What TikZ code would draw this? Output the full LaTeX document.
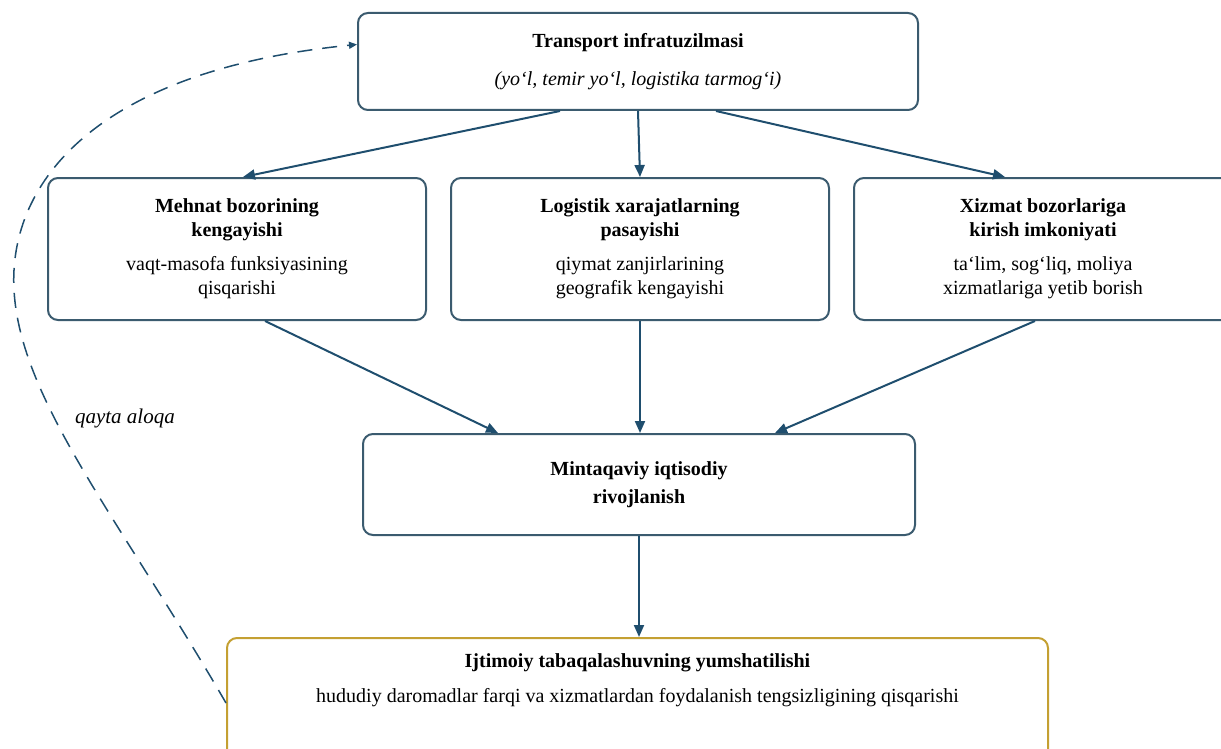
\documentclass[tikz,border=0pt]{standalone}
\usepackage{fontspec}
\setmainfont{Liberation Serif}
\usetikzlibrary{positioning,calc,arrows.meta}
\definecolor{boxline}{HTML}{3B5B6F}
\definecolor{arrowblue}{HTML}{1F4E6E}
\definecolor{goldline}{HTML}{C4A032}
\tikzset{block/.style={draw=boxline,line width=1pt,rounded corners=5pt,align=center,fill=white,
                       font=\fontsize{10}{12}\selectfont,minimum width=189pt,minimum height=71pt},
         line/.style={-{Triangle[length=6pt,width=5pt]},draw=arrowblue,line width=1pt},
         feedback/.style={-{Triangle[length=4pt,width=3.5pt]},draw=arrowblue,line width=0.75pt,dash pattern=on 7.5pt off 5pt}
}

\begin{document}
\begin{tikzpicture}[x=0.5pt,y=-0.5pt]
  \path[use as bounding box,clip] (0,0) rectangle (1221,749);
  \node[block, minimum width=280pt, minimum height=48.5pt] (trans) at (638,61.5)
    {\textbf{Transport infratuzilmasi}\\[7pt]\textit{(yo‘l, temir yo‘l, logistika tarmog‘i)}};
  \node[block] (mehnat) at (237,249)
    {\textbf{Mehnat bozorining}\\\textbf{kengayishi}\\[5pt]vaqt-masofa funksiyasining\\qisqarishi};
  \node[block, right=11.5pt of mehnat] (logist)
    {\textbf{Logistik xarajatlarning}\\\textbf{pasayishi}\\[5pt]qiymat zanjirlarining\\geografik kengayishi};
  \node[block, right=11.5pt of logist] (xizmat)
    {\textbf{Xizmat bozorlariga}\\\textbf{kirish imkoniyati}\\[5pt]ta‘lim, sog‘liq, moliya\\xizmatlariga yetib borish};
  \node[block, minimum width=276pt, minimum height=50.5pt] (mintaqa) at (639,484.5)
    {\textbf{Mintaqaviy iqtisodiy}\\[2pt]\textbf{rivojlanish}};
  \node[block, draw=goldline, minimum width=410.5pt, inner ysep=8pt, anchor=north] (ijtimoiy) at (637.5,637)
    {\textbf{Ijtimoiy tabaqalashuvning yumshatilishi}\\[5.5pt]hududiy daromadlar farqi va xizmatlardan foydalanish tengsizligining qisqarishi\\[20pt]\mbox{}};
  \node[font=\itshape\fontsize{10.5}{12}\selectfont, anchor=west] (qayta) at (68,418) {qayta aloqa};

  \draw[line] ($(trans.south)+(-78,0)$) -- ($(mehnat.north)+(6,0)$);
  \draw[line] (trans.south) -- (logist.north);
  \draw[line] ($(trans.south)+(78,0)$) -- ($(xizmat.north)+(-38,0)$);
  \draw[line] ($(mehnat.south)+(28,0)$) -- ($(mintaqa.north)+(-141,0)$);
  \draw[line] (logist.south) -- (logist.south |- mintaqa.north);
  \draw[line] ($(xizmat.south)+(-8,0)$) -- ($(mintaqa.north)+(136,0)$);
  \draw[line] (mintaqa.south) -- (mintaqa.south |- ijtimoiy.north);
  % qayta aloqa
  \draw[feedback] ($(ijtimoiy.north west)+(0,66)$) .. controls (120,520) and (20,400) .. (14,290)
                  .. controls (8,180) and (100,70) .. ($(trans.west)+(0,-17)$);
\end{tikzpicture}
\end{document}
